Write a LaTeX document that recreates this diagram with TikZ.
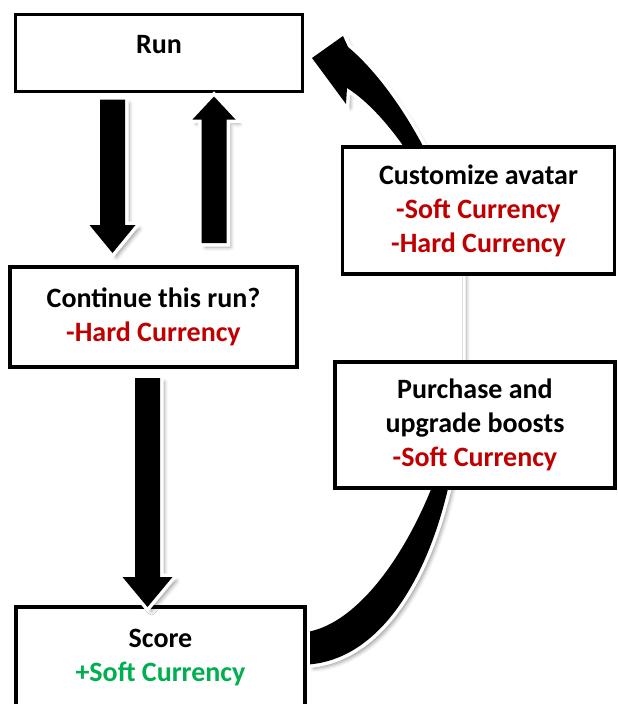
\documentclass[tikz,border=0pt]{standalone}
\usepackage{fontspec}
\setmainfont{Carlito}
\usepackage{tikz}
\usetikzlibrary{calc}
\usetikzlibrary{shadows.blur}
\definecolor{costred}{HTML}{C00000}
\definecolor{gaingreen}{HTML}{00B050}
\pgfdeclarelayer{back}
\pgfsetlayers{back,main}
\tikzstyle{loopbox}=[
      rectangle,
      draw = black,
      line width = 3.5pt,
      fill = white,
      align = center,
      inner sep = 0pt,
      outer sep = 0pt,
      font = \fontsize{28}{34}\selectfont\bfseries
      ]
\tikzstyle{fatarrow}=[
      fill = black,
      line join = miter,
      blur shadow = {shadow xshift=4pt, shadow yshift=-4pt, shadow blur radius=4pt, shadow opacity=40},
      preaction = {draw = white, line width = 7pt}
      ]
% straight block arrow: tail, tip, shaft half width, head half width, head length
\newcommand\fatvert[5]{
  \path[fatarrow] let \p1=(#1), \p2=(#2), \p3=($(#2)!#5!(#1)$) in
    (\x1-#3,\y1) -- (\x1-#3,\y3) -- (\x1-#4,\y3) -- (\x2,\y2)
    -- (\x1+#4,\y3) -- (\x1+#3,\y3) -- (\x1+#3,\y1) -- cycle;
}

\begin{document}
\begin{tikzpicture}[x=1pt,y=-1pt]
\useasboundingbox (0,0) rectangle (618,704);

\node [loopbox, minimum width=287pt, minimum height=77pt, text depth=18pt] (run) at (159,53) {Run};
\node [loopbox, minimum width=287pt, minimum height=100pt] (cont) at (153.5,317)
  {Continue this run?\\\textcolor{costred}{-Hard Currency}};
\node [loopbox, anchor=north, minimum width=289pt, inner ysep=22pt] (score) at (160.5,607)
  {Score\\\textcolor{gaingreen}{+Soft Currency}};
\node [loopbox, minimum width=272pt, minimum height=127pt] (avatar) at (478.5,210.5)
  {Customize avatar\\\textcolor{costred}{-Soft Currency}\\\textcolor{costred}{-Hard Currency}};
\node [loopbox, minimum width=280pt, minimum height=126pt] (boosts) at (475,425)
  {Purchase and\\upgrade boosts\\\textcolor{costred}{-Soft Currency}};

\coordinate (downtail) at ($(run.south)+(-46.5,8)$);
\coordinate (downtip) at ($(cont.north)+(-41,-14)$);
\coordinate (uptail) at ($(cont.north)+(60.5,-24)$);
\coordinate (uptip) at ($(run.south)+(55,5)$);
\coordinate (endtail) at ($(cont.south)+(-6,11)$);
\coordinate (endtip) at ($(score.north)+(-13,0)$);
\coordinate (loophi) at ($(score.east)+(5,-26)$);
\coordinate (looplo) at ($(score.east)+(5,7)$);
\coordinate (looptip) at ($(run.east)+(9.5,5)$);

\fatvert{downtail}{downtip}{12.5pt}{23pt}{28pt}
\fatvert{uptail}{uptip}{12.5pt}{21.5pt}{23pt}
\fatvert{endtail}{endtip}{12.5pt}{25pt}{30pt}

\begin{pgfonlayer}{back}
\path[fatarrow] (looplo) .. controls (410,655) and (463,500) .. (462,362)
  -- (462,275) .. controls (462,200) and (400,90) .. (348,47)
  -- (343,36) -- (looptip) -- (346,104) -- (347,88)
  .. controls (395,118) and (450,210) .. (462,275)
  -- (462,362) .. controls (455,470) and (385,615) .. (loophi) -- cycle;
\end{pgfonlayer}
\end{tikzpicture}
\end{document}
